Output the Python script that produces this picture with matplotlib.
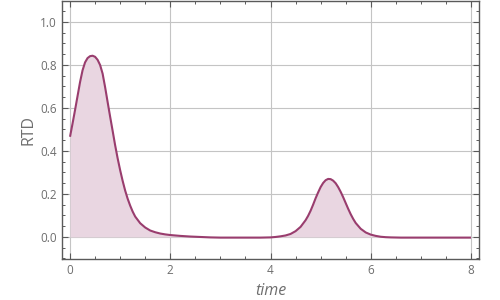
import matplotlib
matplotlib.use("Agg")
import matplotlib.pyplot as plt
from matplotlib.ticker import MultipleLocator

plt.rcParams['font.family'] = ['Open Sans', 'DejaVu Sans']

time = [0.0, 0.05, 0.1, 0.15, 0.2, 0.25, 0.3, 0.35, 0.4, 0.45, 0.5, 0.55, 0.6, 0.65, 0.7,
        0.75, 0.8, 0.85, 0.9, 0.95, 1.0, 1.05, 1.1, 1.15, 1.2, 1.25, 1.3, 1.4, 1.5, 1.6,
        1.7, 1.8, 1.9, 2.0, 2.2, 2.4, 2.6, 2.8, 3.0, 3.2, 3.4, 3.6, 3.8, 4.0, 4.1,
        4.2, 4.3, 4.4, 4.5, 4.6, 4.7, 4.75, 4.8, 4.85, 4.9, 4.95, 5.0, 5.05, 5.1, 5.15,
        5.2, 5.25, 5.3, 5.35, 5.4, 5.45, 5.5, 5.55, 5.6, 5.65, 5.7, 5.8, 5.9, 6.0,
        6.1, 6.2, 6.3, 6.4, 6.6, 7.0, 7.5, 8.0]
rtd = [0.466, 0.527, 0.590, 0.655, 0.720, 0.775, 0.812, 0.832, 0.841, 0.843, 0.838, 0.824,
       0.800, 0.760, 0.697, 0.628, 0.560, 0.494, 0.427, 0.366, 0.311, 0.261, 0.216, 0.178,
       0.146, 0.118, 0.095, 0.064, 0.044, 0.030, 0.022, 0.016, 0.012, 0.009, 0.005, 0.002,
       0.000, -0.002, -0.003, -0.003, -0.003, -0.003, -0.003, -0.002, 0.000,
       0.003, 0.007, 0.014, 0.027, 0.047, 0.078, 0.098, 0.122, 0.150, 0.180, 0.207, 0.232,
       0.251, 0.264, 0.270, 0.269, 0.262, 0.250, 0.232, 0.210, 0.185, 0.158, 0.131, 0.106,
       0.084, 0.065, 0.038, 0.021, 0.011, 0.005, 0.001, -0.001, -0.002, -0.003, -0.003,
       -0.003, -0.003]

x_ticks = [0, 2, 4, 6, 8]
y_ticks = [0.0, 0.2, 0.4, 0.6, 0.8, 1.0]

line_color = "#993D6E"
fill_color = "#E9D6E1"

fig = plt.figure(figsize=(5, 3), dpi=100)
ax = fig.add_axes([0.124, 0.137, 0.834, 0.860])

ax.fill_between(time, rtd, 0, color=fill_color, linewidth=0, zorder=1)
ax.plot(time, rtd, color=line_color, linewidth=1.5, zorder=3, solid_capstyle="butt",
        solid_joinstyle="round")

ax.set_xlim(-0.16, 8.16)
ax.set_ylim(-0.102, 1.098)
ax.set_xticks(x_ticks)
ax.set_yticks(y_ticks)
ax.set_xticklabels([str(v) for v in x_ticks])
ax.set_yticklabels([f"{v:.1f}" for v in y_ticks])
ax.xaxis.set_minor_locator(MultipleLocator(0.5))
ax.yaxis.set_minor_locator(MultipleLocator(0.05))

ax.grid(True, which="major", color="#C4C4C4", linewidth=0.8, zorder=0)
ax.set_axisbelow(True)

for s in ax.spines.values():
    s.set_color("#5A5A5A")
    s.set_linewidth(1.0)

ax.tick_params(which="both", direction="in", top=True, right=True, colors="#5A5A5A",
               labelcolor="#6E6E6E", labelsize=8.5)
ax.tick_params(which="major", length=4, width=0.8, pad=3.5)
ax.tick_params(which="minor", length=2.5, width=0.7)

ax.set_xlabel("time", fontsize=11.5, color="#6E6E6E", style="italic", labelpad=4.5)
ax.set_ylabel("RTD", fontsize=11.5, color="#6E6E6E", labelpad=3)

fig.savefig("out.png", dpi=100)
